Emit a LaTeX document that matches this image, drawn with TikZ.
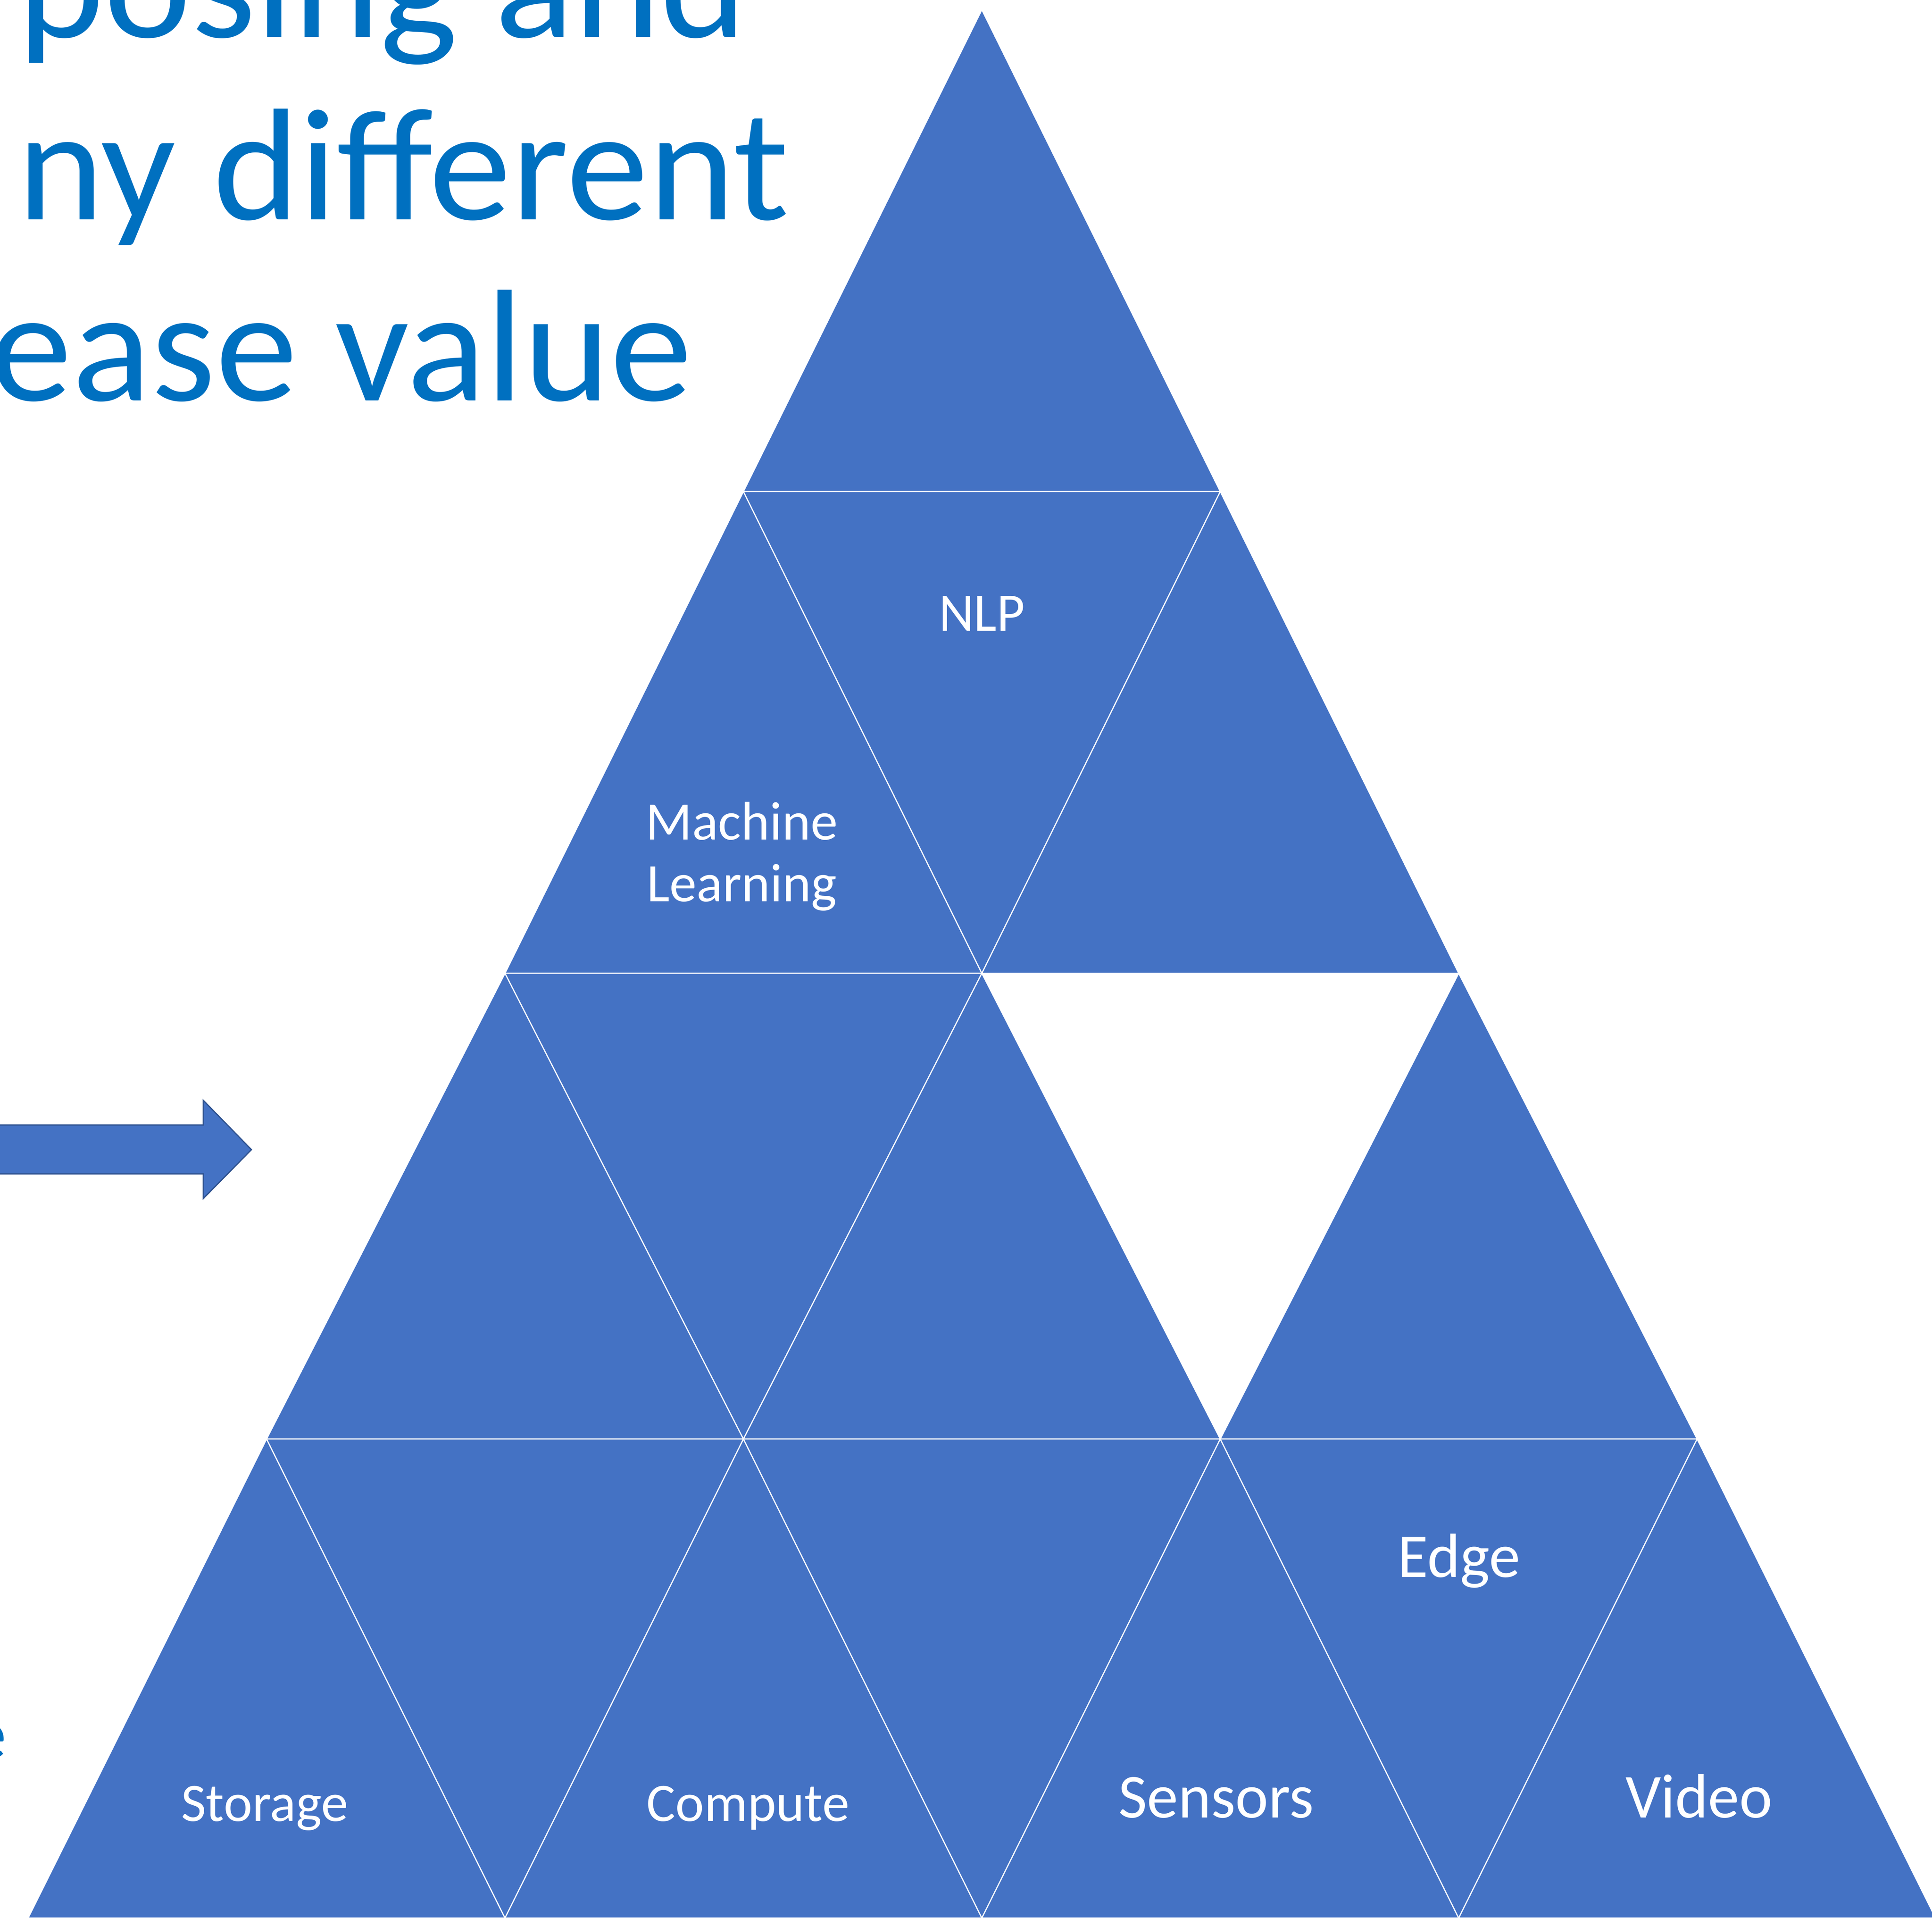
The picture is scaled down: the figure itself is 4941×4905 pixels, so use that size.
\documentclass[tikz,border=0pt]{standalone}
\usepackage{fontspec}
\setmainfont{Carlito}
\newfontfamily\titlefont{Carlito}[FakeStretch=1.033]
\definecolor{triblue}{HTML}{4472C4}
\definecolor{titleblue}{HTML}{0070C0}
\definecolor{arrowedge}{HTML}{2F528F}
\begin{document}
\begin{tikzpicture}[x=0.01cm,y=-0.01cm,
  tri/.style={fill=triblue, draw=white, line width=0.8pt, line join=miter},
  lbl/.style={text=white, inner sep=0pt, anchor=base, font=\fontsize{39.5pt}{45pt}\selectfont},
  lblbig/.style={lbl, font=\fontsize{45.5pt}{50pt}\selectfont},
  titletext/.style={text=titleblue, inner sep=0pt, anchor=base west, font=\titlefont\fontsize{116pt}{116pt}\selectfont},
  arrowshape/.style={fill=triblue, draw=arrowedge, line width=0.9pt, line join=miter}]
\useasboundingbox (0,0) rectangle (4941,4905);
\clip (0,0) rectangle (4941,4905);
% lattice of triangle corners
\coordinate (P00) at (2511,25);
\coordinate (P10) at (1901.25,1257);
\coordinate (P11) at (3120.75,1257);
\coordinate (P20) at (1291.5,2489);
\coordinate (P21) at (2511,2489);
\coordinate (P22) at (3730.5,2489);
\coordinate (P30) at (681.75,3680);
\coordinate (P31) at (1901.25,3680);
\coordinate (P32) at (3120.75,3680);
\coordinate (P33) at (4340.25,3680);
\coordinate (P40) at (72,4905);
\coordinate (P41) at (1291.5,4905);
\coordinate (P42) at (2511,4905);
\coordinate (P43) at (3730.5,4905);
\coordinate (P44) at (4950,4905);
% row 1
\draw[tri] (P00) -- (P10) -- (P11) -- cycle;
% row 2
\draw[tri] (P10) -- (P20) -- (P21) -- cycle;
\draw[tri] (P10) -- (P11) -- (P21) -- cycle;
\draw[tri] (P11) -- (P21) -- (P22) -- cycle;
% row 3
\draw[tri] (P20) -- (P30) -- (P31) -- cycle;
\draw[tri] (P20) -- (P21) -- (P31) -- cycle;
\draw[tri] (P21) -- (P31) -- (P32) -- cycle;
\draw[tri] (P22) -- (P32) -- (P33) -- cycle;
% row 4
\draw[tri] (P30) -- (P40) -- (P41) -- cycle;
\draw[tri] (P30) -- (P31) -- (P41) -- cycle;
\draw[tri] (P31) -- (P41) -- (P42) -- cycle;
\draw[tri] (P31) -- (P32) -- (P42) -- cycle;
\draw[tri] (P32) -- (P42) -- (P43) -- cycle;
\draw[tri] (P32) -- (P33) -- (P43) -- cycle;
\draw[tri] (P33) -- (P43) -- (P44) -- cycle;
% labels
\node[lbl] (nlp) at (2511,1613) {NLP};
\node[lbl, anchor=center, align=center] (ml) at (1897,2190) {Machine\\Learning};
\node[lbl] (storage) at (677,4657) {Storage};
\node[lbl] (compute) at (1913,4657) {Compute};
\node[lblbig] (sensors) at (3110,4648) {Sensors};
\node[lblbig] (video) at (4345,4648) {Video};
\node[lblbig] (edge) at (3731,4033) {Edge};
% arrow
\draw[arrowshape] (-20,2877) -- (520,2877) -- (520,2814) -- (643,2940) -- (520,3065) -- (520,3002) -- (-20,3002) -- cycle;
% title fragments
\node[titletext] (t1) at (45,95) {posing and};
\node[titletext] (t2) at (44,561) {ny different};
\node[titletext] (t3) at (-26,1024) {ease value};
\node[text=titleblue, inner sep=0pt, anchor=base east, font=\fontsize{52pt}{52pt}\selectfont] (t4) at (17,4497) {e};
\end{tikzpicture}
\end{document}
